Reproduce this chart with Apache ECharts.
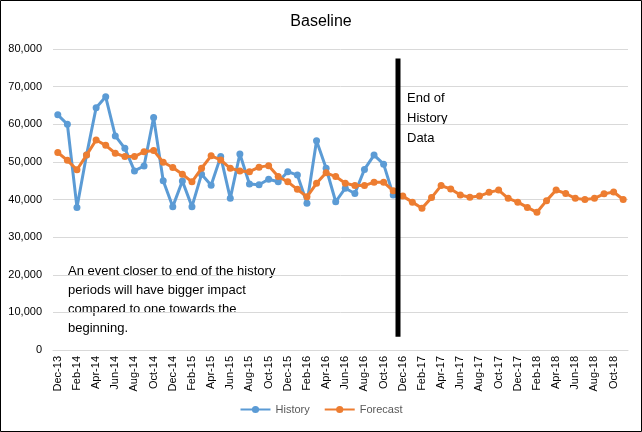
<!DOCTYPE html>
<html>
<head>
<meta charset="utf-8">
<script src="https://cdn.jsdelivr.net/npm/echarts@6/dist/echarts.min.js"></script>
<style>
html,body{margin:0;padding:0;background:#fff;}
#chart{width:642px;height:432px;}
</style>
</head>
<body>
<div id="chart"></div>
<script>
// months Dec-13 .. Nov-18
var months = [];
var mNames = ['Jan','Feb','Mar','Apr','May','Jun','Jul','Aug','Sep','Oct','Nov','Dec'];
(function(){
	var m = 11, y = 13;
	for (var i = 0; i < 60; i++) {
		months.push(mNames[m] + '-' + y);
		m++;
		if (m > 11) { m = 0; y++; }
	}
})();

var historyData = [
	62500, 60000, 37900, 51800, 64400, 67300, 56900, 53600, 47600, 48900,
	61800, 45000, 38100, 44900, 38100, 46700, 43800, 51400, 40300, 52100,
	44100, 43900, 45400, 44700, 47400, 46500, 39000, 55600, 48300, 39400,
	43000, 41600, 48000, 51800, 49400, 41200
];
var forecastData = [
	52500, 50400, 47900, 51800, 55800, 54400, 52300, 51400, 51400, 52700,
	53000, 49900, 48500, 46700, 44700, 48300, 51600, 50500, 48300, 47600,
	47400, 48600, 49000, 46100, 44700, 42700, 40700, 44300, 47100, 46100,
	44300, 43700, 43700, 44600, 44600, 42300, 40900, 39300, 37700, 40500,
	43700, 42800, 41200, 40600, 40900, 41900, 42500, 40300, 39300, 37900,
	36600, 39700, 42500, 41600, 40300, 40000, 40300, 41500, 42000, 40000
];
// end of history marker (between Nov-16 and Dec-16)
var endOfHistory = [[35.5, 3500], [35.5, 77500]];

var font = 'Liberation Sans';
var chart = echarts.init(document.getElementById('chart'));
var option = {
	backgroundColor: '#fff',
	animation: false,
	title: {
		text: 'Baseline',
		left: 'center',
		top: 9,
		textStyle: { fontFamily: font, fontSize: 16, fontWeight: 'normal', color: '#000' }
	},
	legend: {
		bottom: 12,
		left: 'center',
		data: ['History', 'Forecast'],
		itemWidth: 30,
		itemHeight: 9,
		itemGap: 14,
		textStyle: { fontFamily: font, fontSize: 11, color: '#595959' }
	},
	grid: { left: 53, right: 14, top: 49, bottom: 82 },
	xAxis: [{
		type: 'category',
		data: months,
		boundaryGap: true,
		axisLine: { lineStyle: { color: '#d9d9d9' } },
		axisTick: { show: false },
		axisLabel: {
			interval: 1,
			rotate: 90,
			fontFamily: font,
			fontSize: 11,
			color: '#000',
			margin: 6
		}
	}, {
		type: 'value',
		min: -0.5,
		max: 59.5,
		show: false
	}],
	yAxis: {
		type: 'value',
		min: 0,
		max: 80000,
		interval: 10000,
		axisLine: { show: false },
		axisTick: { show: false },
		splitLine: { lineStyle: { color: '#d9d9d9' } },
		axisLabel: {
			fontFamily: font,
			fontSize: 11,
			color: '#000',
			margin: 11,
			formatter: function (v) { return v.toLocaleString('en-US'); }
		}
	},
	graphic: [{
		type: 'rect',
		shape: { x: 0.5, y: 0.5, width: 641, height: 431 },
		style: { fill: 'none', stroke: '#000', lineWidth: 1 },
		silent: true
	}, {
		type: 'text',
		left: 407,
		top: 88,
		style: {
			text: 'End of\nHistory\nData',
			font: '13px "Liberation Sans"',
			lineHeight: 20,
			fill: '#000'
		}
	}, {
		type: 'text',
		left: 68,
		top: 262,
		style: {
			text: 'An event closer to end of the history\nperiods will have bigger impact\ncompared to one towards the\nbeginning.',
			font: '13px "Liberation Sans"',
			lineHeight: 19,
			fill: '#000'
		}
	}],
	series: [{
		name: 'History',
		type: 'line',
		data: historyData,
		symbol: 'circle',
		symbolSize: 7,
		showAllSymbol: true,
		color: '#5b9bd5',
		lineStyle: { width: 3, color: '#5b9bd5' },
		z: 2
	}, {
		name: 'Forecast',
		type: 'line',
		data: forecastData,
		symbol: 'circle',
		symbolSize: 7,
		showAllSymbol: true,
		color: '#ed7d31',
		lineStyle: { width: 3, color: '#ed7d31' },
		z: 3
	}, {
		name: 'End',
		type: 'line',
		xAxisIndex: 1,
		data: endOfHistory,
		symbol: 'none',
		silent: true,
		lineStyle: { width: 5, color: '#000' },
		z: 4
	}]
};
chart.setOption(option);
</script>
</body>
</html>
